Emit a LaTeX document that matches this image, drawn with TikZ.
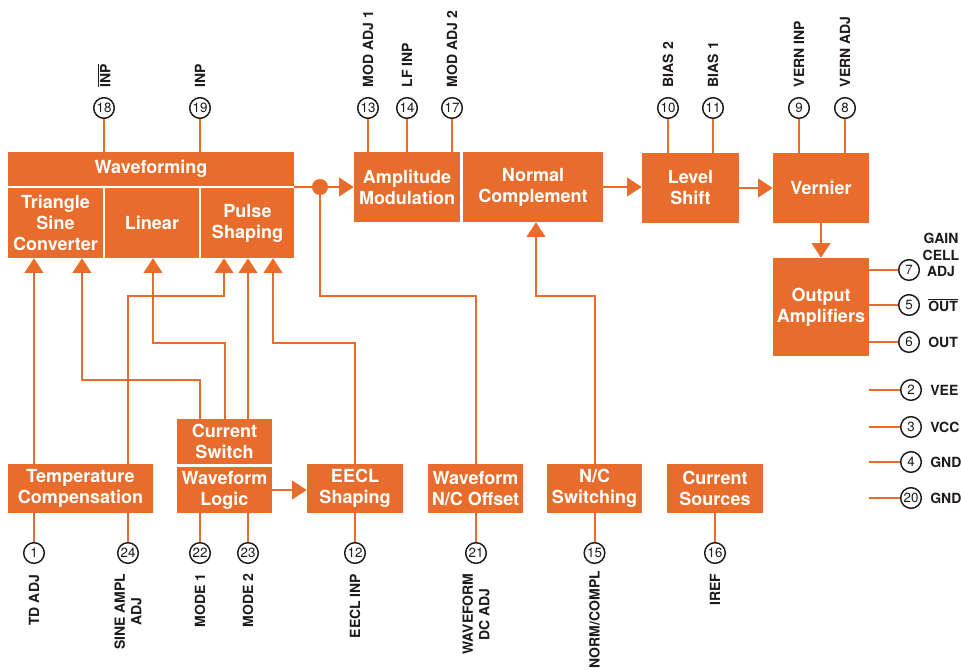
\documentclass[tikz,border=0pt]{standalone}
\usepackage{fontspec}
\setmainfont{TeX Gyre Heros}
\usepackage{xcolor}
\usepackage{tikz}
\usetikzlibrary{arrows.meta,positioning,calc}
\definecolor{chipOrange}{HTML}{E86D2C}
\definecolor{chipInk}{HTML}{1E1A1A}
\tikzset{
  block/.style={
    rectangle,
    fill=chipOrange,
    text=white,
    inner sep=0pt,
    align=center,
    font=\fontsize{13.5}{15.8}\selectfont\bfseries
  },
  pinCircle/.style={
    circle,
    draw=chipInk,
    line width=1.1pt,
    fill=white,
    minimum size=15.5pt,
    inner sep=0pt,
    text=chipInk,
    font=\fontsize{10}{10}\selectfont
  },
  pinLabel/.style={
    inner sep=0pt,
    text=chipInk,
    align=center,
    font=\fontsize{10.5}{12.5}\selectfont\bfseries
  },
  wire/.style={
    draw=chipOrange,
    line width=1.5pt
  },
  sigArrow/.style={
    wire,
    -{Triangle[length=11pt,width=14pt]}
  },
  junction/.style={
    circle,
    fill=chipOrange,
    minimum size=12pt,
    inner sep=0pt
  }
}
\begin{document}
\begin{tikzpicture}[x=0.75pt,y=-0.75pt]
  \useasboundingbox (0,0) rectangle (961,670);
  \fill[white] (0,0) rectangle (961,670);
  \node[block,minimum width=214.5pt,minimum height=25.5pt] (wf) at (151,169) {Waveforming};
  \node[block,minimum width=71.25pt,minimum height=52.5pt] (tsc) at (55.5,223) {Triangle\\Sine\\Converter};
  \node[block,minimum width=70.5pt,minimum height=52.5pt] (lin) at (152,223) {Linear};
  \node[block,minimum width=69.75pt,minimum height=52.5pt] (ps) at (247.5,223) {Pulse\\Shaping};
  \node[block,minimum width=79.5pt,minimum height=52.5pt] (am) at (407,187) {Amplitude\\Modulation};
  \node[block,minimum width=105pt,minimum height=52.5pt] (nc) at (533,187) {Normal\\Complement};
  \node[block,minimum width=72.75pt,minimum height=52.5pt] (ls) at (690.5,188) {Level\\Shift};
  \node[block,minimum width=72pt,minimum height=52.5pt] (vern) at (821,188) {Vernier};
  \node[block,minimum width=72pt,minimum height=73.5pt] (oa) at (821,307) {Output\\Amplifiers};
  \node[block,minimum width=108.75pt,minimum height=36.75pt] (tc) at (80.5,488.5) {Temperature\\Compensation};
  \node[block,minimum width=71.25pt,minimum height=33.75pt] (cs) at (224.5,441.5) {Current\\Switch};
  \node[block,minimum width=71.25pt,minimum height=34.5pt] (wl) at (224.5,490) {Waveform\\Logic};
  \node[block,minimum width=72pt,minimum height=36.75pt] (ees) at (355,488.5) {EECL\\Shaping};
  \node[block,minimum width=71.25pt,minimum height=36.75pt] (wnc) at (475.5,488.5) {Waveform\\N/C Offset};
  \node[block,minimum width=71.25pt,minimum height=36.75pt] (ncs) at (594.5,488.5) {N/C\\Switching};
  \node[block,minimum width=72pt,minimum height=36.75pt] (csrc) at (715,488.5) {Current\\Sources};
  \node[junction] (dot) at (320,187) {};

  \node[pinCircle] (p18) at (104,108) {18};
  \node[pinCircle] (p19) at (200,108) {19};
  \node[pinCircle] (p13) at (368,108) {13};
  \node[pinCircle] (p14) at (407,108) {14};
  \node[pinCircle] (p17) at (452,108) {17};
  \node[pinCircle] (p10) at (668,108) {10};
  \node[pinCircle] (p11) at (713,108) {11};
  \node[pinCircle] (p9) at (799,108) {9};
  \node[pinCircle] (p8) at (845,108) {8};
  \node[pinCircle] (p7) at (909,270) {7};
  \node[pinCircle] (p5) at (909,305) {5};
  \node[pinCircle] (p6) at (909,342) {6};
  \node[pinCircle] (p2) at (911,390) {2};
  \node[pinCircle] (p3) at (911,427) {3};
  \node[pinCircle] (p4) at (911,462) {4};
  \node[pinCircle] (p20) at (911,498) {20};
  \node[pinCircle] (p1) at (34,553) {1};
  \node[pinCircle] (p24) at (128,553) {24};
  \node[pinCircle] (p22) at (200,553) {22};
  \node[pinCircle] (p23) at (248,553) {23};
  \node[pinCircle] (p12) at (355,553) {12};
  \node[pinCircle] (p21) at (476,553) {21};
  \node[pinCircle] (p15) at (594.5,553) {15};
  \node[pinCircle] (p16) at (715,553) {16};

  \node[pinLabel,rotate=90,anchor=west] (l18) at ([yshift=7pt]p18.north) {$\overline{\mbox{INP}}$};
  \node[pinLabel,rotate=90,anchor=west] (l19) at ([yshift=7pt]p19.north) {INP};
  \node[pinLabel,rotate=90,anchor=west] (l13) at ([yshift=7pt]p13.north) {MOD ADJ 1};
  \node[pinLabel,rotate=90,anchor=west] (l14) at ([yshift=7pt]p14.north) {LF INP};
  \node[pinLabel,rotate=90,anchor=west] (l17) at ([yshift=7pt]p17.north) {MOD ADJ 2};
  \node[pinLabel,rotate=90,anchor=west] (l10) at ([yshift=7pt]p10.north) {BIAS 2};
  \node[pinLabel,rotate=90,anchor=west] (l11) at ([yshift=7pt]p11.north) {BIAS 1};
  \node[pinLabel,rotate=90,anchor=west] (l9) at ([yshift=7pt]p9.north) {VERN INP};
  \node[pinLabel,rotate=90,anchor=west] (l8) at ([yshift=7pt]p8.north) {VERN ADJ};
  \node[pinLabel] (l7) at (941,255) {GAIN\\CELL\\ADJ};
  \node[pinLabel,anchor=west] (l5) at ([xshift=6pt]p5.east) {$\overline{\mbox{OUT}}$};
  \node[pinLabel,anchor=west] (l6) at ([xshift=6pt]p6.east) {OUT};
  \node[pinLabel,anchor=west] (l2) at ([xshift=6pt]p2.east) {VEE};
  \node[pinLabel,anchor=west] (l3) at ([xshift=6pt]p3.east) {VCC};
  \node[pinLabel,anchor=west] (l4) at ([xshift=6pt]p4.east) {GND};
  \node[pinLabel,anchor=west] (l20) at ([xshift=6pt]p20.east) {GND};
  \node[pinLabel,rotate=90,anchor=east] (l1) at ([yshift=-8pt]p1.south) {TD ADJ};
  \node[pinLabel,rotate=90,anchor=east] (l24) at ([yshift=-7pt]p24.south) {SINE AMPL\\ADJ};
  \node[pinLabel,rotate=90,anchor=east] (l22) at ([yshift=-7pt]p22.south) {MODE 1};
  \node[pinLabel,rotate=90,anchor=east] (l23) at ([yshift=-7pt]p23.south) {MODE 2};
  \node[pinLabel,rotate=90,anchor=east] (l12) at ([yshift=-7pt]p12.south) {EECL INP};
  \node[pinLabel,rotate=90,anchor=east] (l21) at ([yshift=-7pt]p21.south) {WAVEFORM\\DC ADJ};
  \node[pinLabel,rotate=90,anchor=east] (l15) at ([yshift=-5pt]p15.south) {NORM/COMPL};
  \node[pinLabel,rotate=90,anchor=east] (l16) at ([yshift=-7pt]p16.south) {IREF};

  \draw[wire] (p18) -- (p18 |- wf.north);
  \draw[wire] (p19) -- (p19 |- wf.north);
  \draw[wire] (p13) -- (p13 |- am.north);
  \draw[wire] (p14) -- (p14 |- am.north);
  \draw[wire] (p17) -- (p17 |- am.north);
  \draw[wire] (p10) -- (p10 |- ls.north);
  \draw[wire] (p11) -- (p11 |- ls.north);
  \draw[wire] (p9) -- (p9 |- vern.north);
  \draw[wire] (p8) -- (p8 |- vern.north);
  \draw[wire] (p7) -- (p7 -| oa.east);
  \draw[wire] (p5) -- (p5 -| oa.east);
  \draw[wire] (p6) -- (p6 -| oa.east);
  \draw[wire] (p2) -- (p2 -| oa.east);
  \draw[wire] (p3) -- (p3 -| oa.east);
  \draw[wire] (p4) -- (p4 -| oa.east);
  \draw[wire] (p20) -- (p20 -| oa.east);
  \draw[wire] (p1) -- (p1 |- tc.south);
  \draw[wire] (p24) -- (p24 |- tc.south);
  \draw[wire] (p22) -- (p22 |- wl.south);
  \draw[wire] (p23) -- (p23 |- wl.south);
  \draw[wire] (p12) -- (p12 |- ees.south);
  \draw[wire] (p21) -- (p21 |- wnc.south);
  \draw[wire] (p15) -- (p15 |- ncs.south);
  \draw[wire] (p16) -- (p16 |- csrc.south);

  \draw[wire] (dot -| wf.east) -- (dot);
  \draw[sigArrow] (dot) -- (dot -| am.west);
  \draw[sigArrow] (nc.east) -- (nc.east -| ls.west);
  \draw[sigArrow] (ls.east) -- (ls.east -| vern.west);
  \draw[sigArrow] (vern) -- (oa);
  \draw[sigArrow] (wl.east) -- (wl.east -| ees.west);

  \coordinate (bendA) at (82,380);
  \coordinate (bendB) at (153,343);
  \coordinate (bendC) at (224,296);
  \coordinate (bendD) at (273,343);
  \coordinate (bendE) at (476,296);
  \coordinate (bendF) at (536,296);
  \draw[sigArrow] (p1 |- tc.north) -- (p1 |- tsc.south);
  \draw[sigArrow] (p22 |- cs.north) |- (bendA) -- (bendA |- tsc.south);
  \draw[sigArrow] (cs.north) |- (bendB) -- (bendB |- lin.south);
  \draw[sigArrow] (p24 |- tc.north) |- (bendC) -- (bendC |- ps.south);
  \draw[sigArrow] (p23 |- cs.north) -- (p23 |- ps.south);
  \draw[sigArrow] (ees.north) |- (bendD) -- (bendD |- ps.south);
  \draw[wire] (dot) |- (bendE) -- (bendE |- wnc.north);
  \draw[sigArrow] (ncs.north) |- (bendF) -- (bendF |- nc.south);
\end{tikzpicture}
\end{document}
